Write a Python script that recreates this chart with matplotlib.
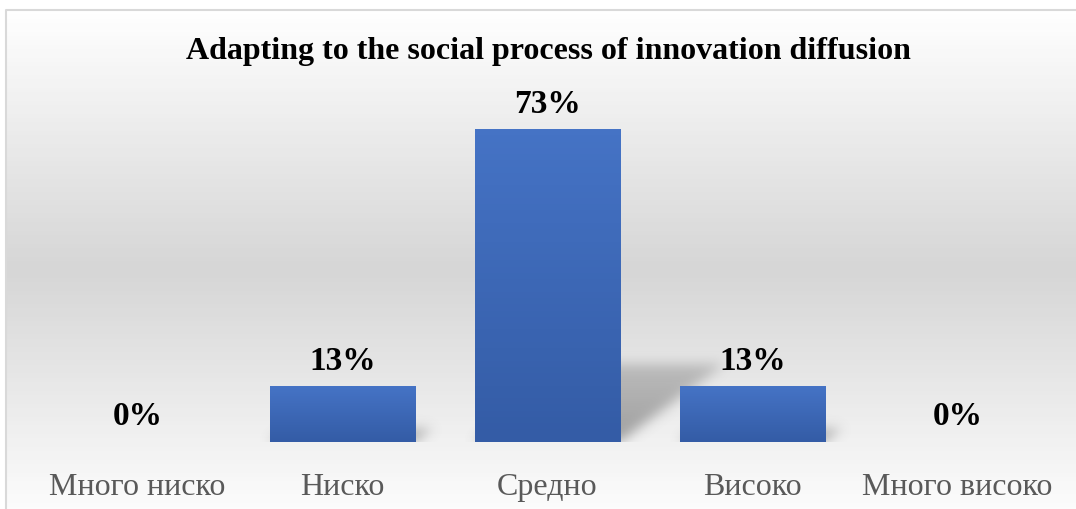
import matplotlib.pyplot as plt
import numpy as np
from matplotlib.colors import LinearSegmentedColormap

categories = ["Много ниско", "Ниско", "Средно", "Високо", "Много високо"]
values = [0, 13, 73, 13, 0]
title = "Adapting to the social process of innovation diffusion"

plt.rcParams['font.family'] = ['Liberation Serif', 'DejaVu Serif']

W, H = 1076, 509
fig = plt.figure(figsize=(W / 100, H / 100), dpi=100)

# background with vertical gradient (white - gray - white)
bg = fig.add_axes([0, 0, 1, 1])
bg.set_xlim(0, W)
bg.set_ylim(H, 0)
bg.axis('off')
g = np.concatenate([np.linspace(1.0, 0.85, 60), np.linspace(0.85, 1.0, 60)])
bg.imshow(g.reshape(-1, 1), cmap=LinearSegmentedColormap.from_list('gg', ['#d6d6d6', '#ffffff']),
          vmin=0.85, vmax=1.0, aspect='auto', extent=[6, W, H + 20, 10])
bg.plot([6, 6, W], [H, 10, 10], color='#d9d9d9', lw=1.5)

# main plot area
left, right = 35, 1060
base, top = 442, 100
ax = fig.add_axes([left / W, (H - base) / H, (right - left) / W, (base - top) / H])
ax.patch.set_alpha(0)
xmin, xmax, ymax = -0.5, len(categories) - 0.5, 80
for s in ax.spines.values():
    s.set_visible(False)
ax.set_yticks([])
ax.set_xticks(range(len(categories)))
ax.set_xticklabels(categories, fontsize=23, color='#595959')
ax.tick_params(axis='x', length=0, pad=22)

x = np.arange(len(categories))
width = 0.71

# soft perspective shadows, rendered as a blurred mask
nx, ny = 1025, 342
gx = np.linspace(xmin, xmax, nx)
gy = np.linspace(0, ymax, ny)
PX, PY = np.meshgrid(gx, gy)
mask = np.zeros_like(PX)
for xi, v in zip(x, values):
    if v <= 0:
        continue
    hh = 0.25 * v
    shift = 0.007 * v
    t = PY / hh
    inside = (PY <= hh) & (PX >= xi - width / 2 + shift * t) & (PX <= xi + width / 2 + shift * t)
    mask[inside] = 1.0 - 0.45 * t[inside]


def blur(a, sigma):
    r = int(3 * sigma)
    k = np.exp(-0.5 * (np.arange(-r, r + 1) / sigma) ** 2)
    k /= k.sum()
    a = np.apply_along_axis(lambda m: np.convolve(m, k, mode='same'), 1, a)
    a = np.apply_along_axis(lambda m: np.convolve(m, k, mode='same'), 0, a)
    return a


mask = blur(mask, 6)
shadow = np.zeros((ny, nx, 4))
shadow[..., :3] = 0.42
shadow[..., 3] = np.clip(mask, 0, 1) * 0.62
ax.imshow(shadow, extent=[xmin, xmax, 0, ymax], origin='lower', aspect='auto', zorder=1)

# bars with vertical gradient fill
bar_cmap = LinearSegmentedColormap.from_list('b', ['#345ca6', '#4573c5'])
bars = ax.bar(x, values, width=width, color='none', zorder=2)
for b, v in zip(bars, values):
    if v <= 0:
        continue
    x0 = b.get_x()
    ax.imshow(np.linspace(0, 1, 50).reshape(-1, 1), cmap=bar_cmap, aspect='auto',
              extent=[x0, x0 + b.get_width(), 0, v], origin='lower', zorder=2)
ax.set_xlim(xmin, xmax)
ax.set_ylim(0, ymax)

for xi, v in zip(x, values):
    ax.annotate(f"{v}%", (xi, v), xytext=(0, 12), textcoords='offset points',
                ha='center', va='baseline', fontsize=24, fontweight='bold', zorder=3)

fig.text(548 / W, 1 - 52 / H, title, ha='center', va='center',
         fontsize=23, fontweight='bold')

fig.savefig('out.png', dpi=100)
